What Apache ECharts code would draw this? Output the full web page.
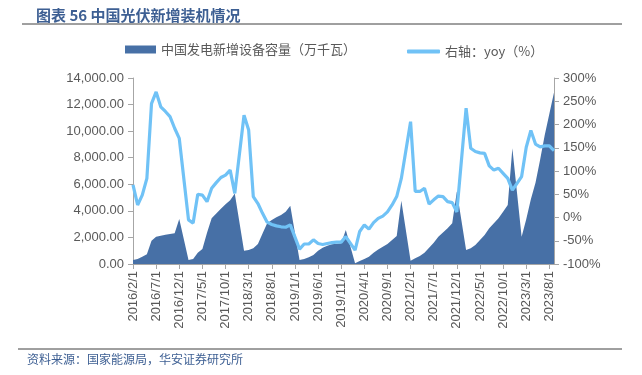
<!DOCTYPE html>
<html>
<head>
<meta charset="utf-8">
<script src="https://cdn.jsdelivr.net/npm/echarts@6/dist/echarts.min.js"></script>
<style>
  html, body { margin: 0; padding: 0; background: #fff; }
  #chart { width: 642px; height: 375px; }
</style>
</head>
<body>
<div id="chart"></div>
<script>
// months 2016/2/1 .. 2023/9/1 (January has no data)
const months = []
for (let y = 2016; y <= 2023; y++) {
  for (let m = 1; m <= 12; m++) {
    if (y === 2016 && m < 2) continue
    if (y === 2023 && m > 9) continue
    months.push(y + '/' + m + '/1')
  }
}

// 中国发电新增设备容量（万千瓦），cumulative within year
const capacity = [
  300, 380, 550, 730, 1750, 2060, 2130, 2200, 2260, 2320, 3380,
  null, 300, 380, 850, 1130, 2350, 3440, 3800, 4150, 4500, 4800, 5300,
  null, 1000, 1050, 1180, 1500, 2300, 3060, 3310, 3510, 3690, 3940, 4390,
  null, 300, 380, 500, 680, 1000, 1230, 1380, 1480, 1530, 1560, 2560,
  null, 50, 230, 380, 550, 850, 1100, 1300, 1500, 1800, 2100, 4770,
  null, 250, 430, 600, 850, 1230, 1600, 2060, 2380, 2690, 3060, 5450,
  null, 1050, 1180, 1430, 1800, 2180, 2690, 3060, 3440, 3940, 4440, 8710,
  null, 2060, 3366, 4865, 6121, 7842, 9716, 11316, 12900
]

// 右轴：yoy（%）
const yoy = [
  70, 27, 48, 84, 245, 270, 238, 228, 217, 192, 170,
  null, -5, -12, 50, 48, 34, 63, 75, 86, 91, 102, 52,
  null, 220, 188, 45, 30, 9, -10, -15, -18, -20, -21, -16,
  null, -68, -57, -57, -48, -56, -58, -56, -54, -53, -53, -41,
  null, -70, -30, -16, -25, -11, -2, 3, 12, 27, 45, 84,
  null, 206, 56, 56, 63, 29, 38, 46, 45, 34, 32, 12,
  null, 235, 149, 142, 139, 138, 111, 102, 106, 95, 84, 59,
  null, 88, 151, 187, 158, 152, 154, 154, 144
]

const nameArea = '中国发电新增设备容量（万千瓦）'
const nameLine = '右轴：yoy（%）'
const gray = '#595959'
const blue = '#4770a6'
const lightBlue = '#70c2f6'
const cjk = '"Noto Sans CJK SC", sans-serif'
const latin = '"Liberation Sans", Arial, sans-serif'

const chart = echarts.init(document.getElementById('chart'))
chart.setOption({
  animation: false,
  title: {
    text: '图表 56 中国光伏新增装机情况',
    left: 31,
    top: 3,
    textStyle: { color: '#3d5f93', fontSize: 15, fontWeight: 'bold', fontFamily: cjk }
  },
  graphic: [
    { type: 'line', shape: { x1: 22, y1: 24, x2: 622, y2: 24 }, style: { stroke: '#404040', lineWidth: 1 } },
    { type: 'line', shape: { x1: 18, y1: 349, x2: 622, y2: 349 }, style: { stroke: '#404040', lineWidth: 1 } },
    {
      type: 'text', left: 27, top: 353,
      style: { text: '资料来源：国家能源局，华安证券研究所', fill: '#3d5f93', font: '12px "Noto Sans CJK SC"' }
    }
  ],
  legend: [
    {
      left: 120, top: 38, itemWidth: 31, itemHeight: 8,
      data: [{ name: nameArea, icon: 'rect' }],
      textStyle: { color: gray, fontSize: 13, fontFamily: cjk }
    },
    {
      left: 402, top: 40, itemWidth: 33, itemHeight: 4,
      data: [{ name: nameLine, icon: 'roundRect' }],
      textStyle: { color: gray, fontSize: 13, fontFamily: cjk }
    }
  ],
  grid: { left: 133, right: 88, top: 78, bottom: 111 },
  xAxis: {
    type: 'category',
    data: months,
    boundaryGap: false,
    axisLine: { lineStyle: { color: '#a6a6a6' } },
    axisTick: { interval: 4, length: 5, lineStyle: { color: '#a6a6a6' } },
    axisLabel: { interval: 4, rotate: 90, color: gray, fontSize: 13, fontFamily: latin, margin: 7 }
  },
  yAxis: [
    {
      type: 'value', min: 0, max: 14000, interval: 2000,
      splitLine: { show: false },
      axisLine: { show: true, lineStyle: { color: '#a6a6a6' } },
      axisTick: { show: true, length: 5, lineStyle: { color: '#a6a6a6' } },
      axisLabel: {
        color: gray, fontSize: 13, fontFamily: latin, margin: 9,
        formatter: v => v.toLocaleString('en-US', { minimumFractionDigits: 2, maximumFractionDigits: 2 })
      }
    },
    {
      type: 'value', min: -100, max: 300, interval: 50,
      splitLine: { show: false },
      axisLine: { show: true, lineStyle: { color: '#a6a6a6' } },
      axisTick: { show: true, length: 5, lineStyle: { color: '#a6a6a6' } },
      axisLabel: { color: gray, fontSize: 13, fontFamily: latin, margin: 9, formatter: '{value}%' }
    }
  ],
  series: [
    {
      name: nameArea,
      type: 'line',
      data: capacity,
      connectNulls: true,
      symbol: 'none',
      itemStyle: { color: blue },
      lineStyle: { width: 0 },
      areaStyle: { color: blue, opacity: 1 }
    },
    {
      name: nameLine,
      type: 'line',
      yAxisIndex: 1,
      data: yoy,
      connectNulls: true,
      symbol: 'none',
      itemStyle: { color: lightBlue },
      lineStyle: { color: lightBlue, width: 3.2 }
    }
  ]
})
</script>
</body>
</html>
